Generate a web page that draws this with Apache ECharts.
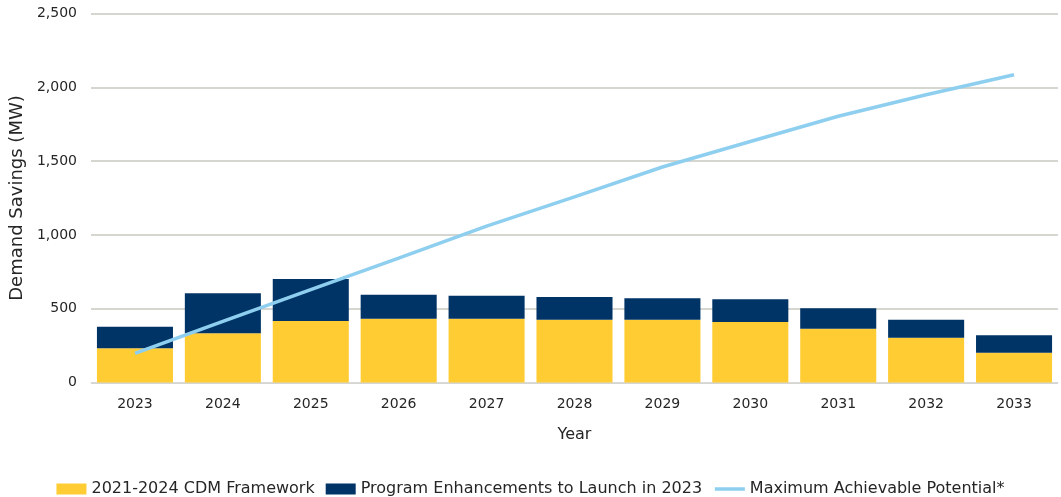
<!DOCTYPE html>
<html>
<head>
<meta charset="utf-8">
<script src="https://cdn.jsdelivr.net/npm/echarts@6/dist/echarts.min.js"></script>
<style>
html,body{margin:0;padding:0;background:#fff;}
#chart{width:1061px;height:497px;}
</style>
</head>
<body>
<div id="chart"></div>
<script>
const years = ['2023','2024','2025','2026','2027','2028','2029','2030','2031','2032','2033'];
const cdmFramework = [232, 333, 417, 432, 432, 425, 425, 410, 365, 304, 202];
const programEnhancements = [146, 271, 284, 163, 156, 154, 145, 154, 138, 121, 118];
const maxAchievable = [198, 414, 629, 843, 1060, 1258, 1460, 1633, 1804, 1950, 2085];
const yTicks = {min: 0, max: 2500, interval: 500};

const FONT = 'DejaVu Sans';
const chart = echarts.init(document.getElementById('chart'));
chart.setOption({
  animation: false,
  textStyle: {fontFamily: FONT, color: '#262626'},
  grid: {left: 91, right: 3, top: 13.5, bottom: 114.5, containLabel: false},
  legend: {
    top: 476,
    left: 'center',
    itemWidth: 30,
    itemHeight: 11,
    itemGap: 11,
    textStyle: {fontFamily: FONT, fontSize: 16, color: '#262626'},
    data: [
      {name: '2021-2024 CDM Framework', icon: 'rect'},
      {name: 'Program Enhancements to Launch in 2023', icon: 'rect'},
      {name: 'Maximum Achievable Potential*', itemStyle: {opacity: 0}, lineStyle: {width: 3.5, color: '#8ECFF0'}}
    ]
  },
  xAxis: {
    type: 'category',
    data: years,
    name: 'Year',
    nameLocation: 'middle',
    nameGap: 44,
    nameTextStyle: {fontFamily: FONT, fontSize: 16, color: '#262626'},
    axisLine: {lineStyle: {color: '#D9D9D9', width: 1}},
    axisTick: {show: false},
    axisLabel: {fontFamily: FONT, fontSize: 14, color: '#262626', margin: 15}
  },
  yAxis: {
    type: 'value',
    min: yTicks.min,
    max: yTicks.max,
    interval: yTicks.interval,
    name: 'Demand Savings (MW)',
    nameLocation: 'middle',
    nameGap: 58,
    nameTextStyle: {fontFamily: FONT, fontSize: 18, color: '#262626'},
    axisLine: {show: false},
    axisTick: {show: false},
    splitLine: {lineStyle: {color: '#C8C8C0', width: 1.5}},
    axisLabel: {
      fontFamily: FONT, fontSize: 14, color: '#262626', margin: 14,
      formatter: v => v.toLocaleString('en-US')
    }
  },
  series: [
    {
      name: '2021-2024 CDM Framework',
      type: 'bar',
      stack: 'total',
      data: cdmFramework,
      barCategoryGap: '13.5%',
      itemStyle: {color: '#FFCC33'}
    },
    {
      name: 'Program Enhancements to Launch in 2023',
      type: 'bar',
      stack: 'total',
      data: programEnhancements,
      barCategoryGap: '13.5%',
      itemStyle: {color: '#003366'}
    },
    {
      name: 'Maximum Achievable Potential*',
      type: 'line',
      data: maxAchievable,
      symbol: 'none',
      smooth: false,
      lineStyle: {color: '#8ECFF0', width: 3.5},
      itemStyle: {color: '#8ECFF0'},
      z: 5
    }
  ]
});
</script>
</body>
</html>
